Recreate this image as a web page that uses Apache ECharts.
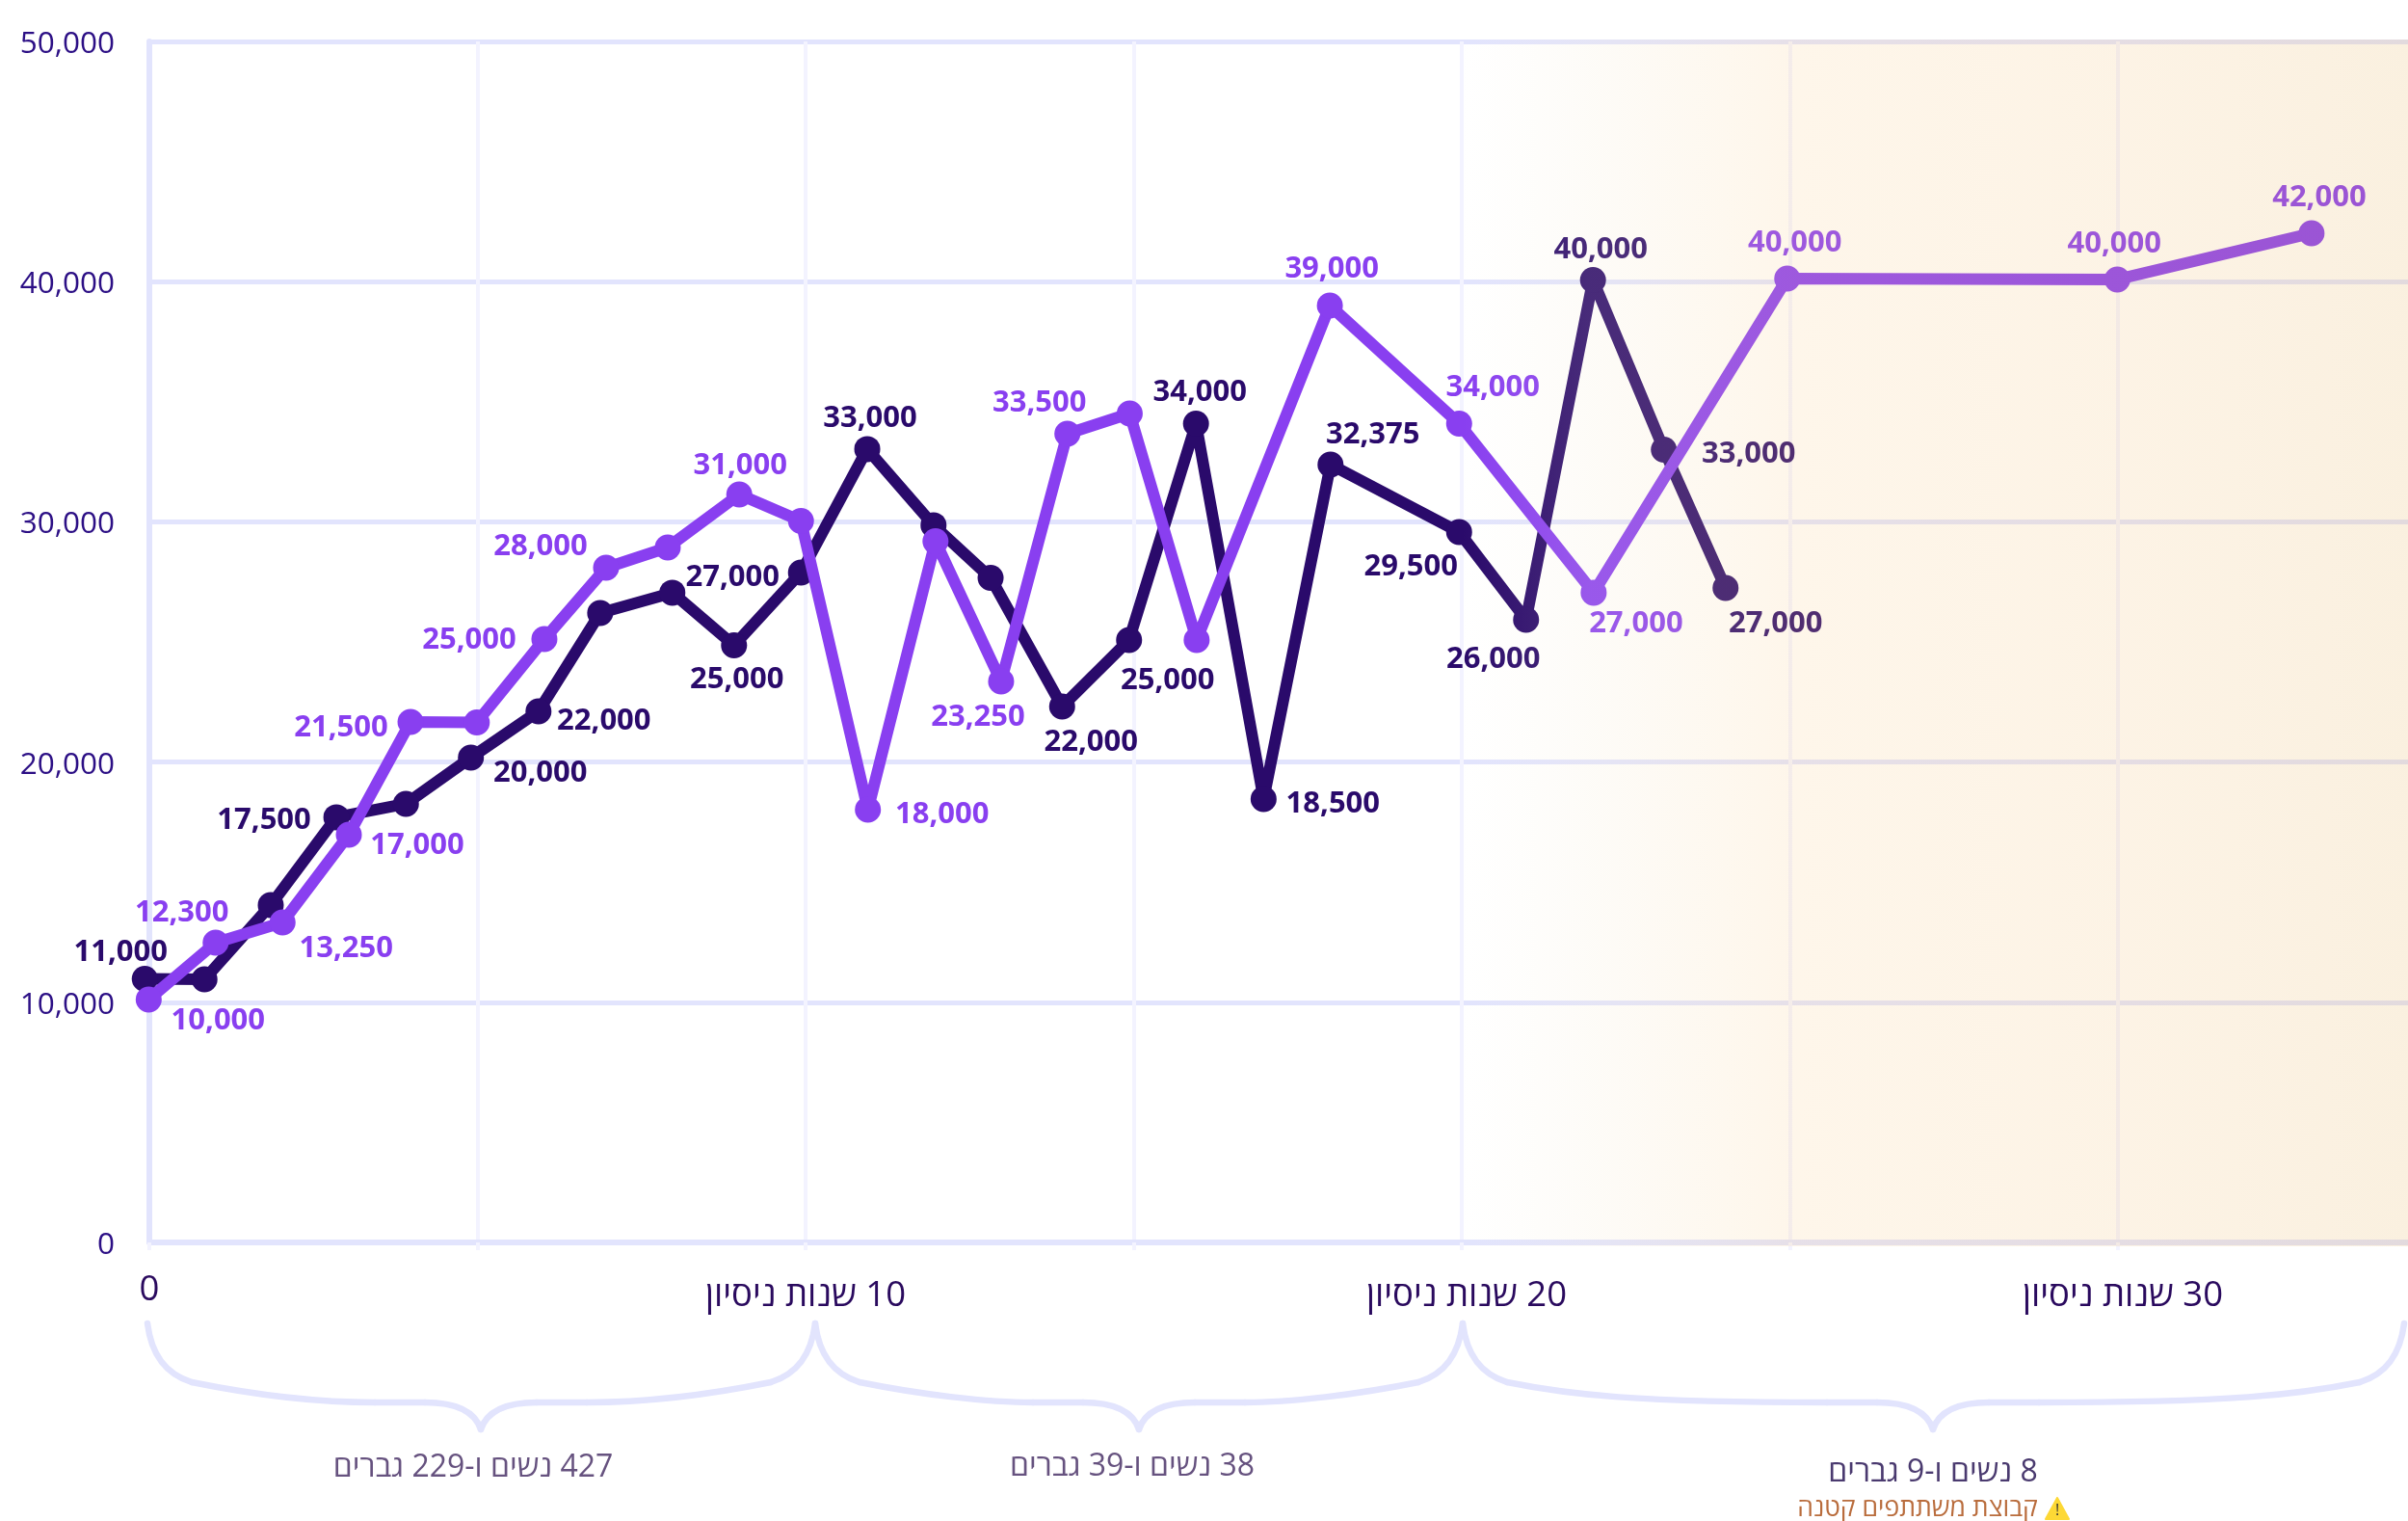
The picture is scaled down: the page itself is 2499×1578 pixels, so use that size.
<!DOCTYPE html>
<html dir="rtl"><head><meta charset="utf-8">
<style>html,body{margin:0;padding:0;background:#fff}#c{width:2499px;height:1578px}</style>
<script src="https://cdn.jsdelivr.net/npm/echarts@6/dist/echarts.min.js"></script></head>
<body><div id="c"></div>
<script>
// Years of experience and monthly salary
const darkYears = [-0.07,0.84,1.85,2.85,3.91,4.90,5.93,6.87,7.97,8.91,9.93,10.94,11.95,12.82,13.91,14.93,15.95,16.98,18.00,19.96,20.98,22.00,23.08,24.02];
const darkValues = [10975,10955,14045,17700,18260,20185,22110,26205,27050,24860,27890,33030,29860,27670,22310,25080,34090,18460,32385,29575,25925,40070,33005,27250];
const darkLabels = ['11,000','','','17,500','','20,000','22,000','','','25,000','27,000','33,000','','','22,000','25,000','34,000','18,500','32,375','29,500','26,000','40,000','33,000','27,000'];
const lightYears = [-0.01,1.01,2.03,3.04,3.98,4.99,6.02,6.96,7.90,8.99,9.93,10.95,11.98,12.98,13.99,14.94,15.96,17.99,19.96,22.01,24.96,29.99,32.95];
const lightValues = [10115,12480,13325,16975,21670,21650,25120,28090,28935,31140,30035,18020,29190,23355,33670,34510,25080,39005,34090,27050,40130,40090,42015];
const lightLabels = ['10,000','12,300','13,250','17,000','21,500','','25,000','28,000','','31,000','','18,000','','23,250','33,500','','','39,000','34,000','27,000','40,000','40,000','42,000'];
const yTicks = [0,10000,20000,30000,40000,50000];
const xTickLabels = {0:'0',10:'10 שנות ניסיון',20:'20 שנות ניסיון',30:'30 שנות ניסיון'};
const groupLabels = ['427 נשים ו-229 גברים','38 נשים ו-39 גברים','8 נשים ו-9 גברים'];
const warningLabel = 'קבוצת משתתפים קטנה';

// Label placement (separate from data)
const darkOffsets = [[-25,-27],null,null,[-75,3],null,[72,16],[68,10],null,null,[3,36],[-71,5],[3,-32],null,null,[30,37],[40,42],[4,-32],[72,5],[44,-31],[-50,36],[-34,41],[8,-31],[88,5],[52,37]];
const lightOffsets = [[72,22],[-35,-31],[66,27],[71,11],[-72,6],null,[-78,1],[-68,-22],null,[1,-30],null,[77,5],null,[-24,37],[-29,-32],null,null,[2,-38],[35,-37],[44,32],[8,-37],[-3,-37],[8,-37]];

const FONT = '"Open Sans","Noto Sans",sans-serif';
const mk = (xs, ys, labels, offs, color) => xs.map((x,i)=>({
  value:[x,ys[i]],
  label: labels[i] ? {show:true,formatter:labels[i],position:'inside',offset:offs[i],color,
    fontFamily:FONT,fontSize:31,fontWeight:700,align:'center',verticalAlign:'middle'} : {show:false}
}));
const series = (name,data,color,z)=>({name,type:'line',data,z,clip:false,symbol:'circle',symbolSize:27,
  showSymbol:true,showAllSymbols:true,animation:false,
  lineStyle:{color,width:12,join:'round',cap:'round'},itemStyle:{color}});

const braceStyle={fill:null,stroke:'#e2e4fd',lineWidth:6.5,lineCap:'round',lineJoin:'round'};
function brace(x0,xm,x1){
  const T=1373,S=1434,F=1455,B=1483;
  const bz=(x1_,y1_,c1x,c1y,c2x,c2y,x2,y2)=>({type:'bezierCurve',silent:true,
    shape:{x1:x1_,y1:y1_,cpx1:c1x,cpy1:c1y,cpx2:c2x,cpy2:c2y,x2,y2},style:braceStyle});
  const ln=(a,b,c,d)=>({type:'line',silent:true,shape:{x1:a,y1:b,x2:c,y2:d},style:braceStyle});
  return [
    bz(x0,T,x0+4,T+32,x0+18,S-9,x0+46,S),
    bz(x0+46,S,x0+110,F-8,x0+180,F,xm-110,F),
    ln(xm-110,F,xm-58,F),
    bz(xm-58,F,xm-24,F,xm-6,F+10,xm,B),
    bz(xm,B,xm+6,F+10,xm+24,F,xm+58,F),
    ln(xm+58,F,xm+110,F),
    bz(xm+110,F,x1-180,F,x1-110,F-8,x1-46,S),
    bz(x1-46,S,x1-18,S-9,x1-4,T+32,x1,T)
  ];
}
const txt=(t,x,y,size,fill)=>({type:'text',x,y,silent:true,style:{text:t,fill,font:`400 ${size}px ${FONT}`,align:'center',verticalAlign:'middle'}});

const chart = echarts.init(document.getElementById('c'),null,{renderer:'canvas'});
chart.setOption({
  animation:false,backgroundColor:'#fff',
  grid:{left:155,right:0,top:43,bottom:289,containLabel:false},
  xAxis:{type:'value',min:0,max:34.42,interval:5,
    axisLine:{show:true,onZero:false,lineStyle:{color:'#e2e4fd',width:6}},
    axisTick:{show:true,length:8,lineStyle:{color:'#f3f3ff',width:4}},
    splitLine:{show:true,showMinLine:false,showMaxLine:false,lineStyle:{color:'#f3f3ff',width:4}},
    axisLabel:{margin:31,showMaxLabel:false,color:'#2a0a5e',fontFamily:FONT,fontSize:36.5,fontWeight:400,
      formatter:v=>{
        if(v===0) return '{z|'+xTickLabels[v]+'}';
        if(v===10) return '{a|'+xTickLabels[v]+'}';
        return xTickLabels[v] ? '{b|'+xTickLabels[v]+'}' : '';
      },
      rich:{z:{fontFamily:FONT,fontSize:36.5,color:'#2a0a5e'},
        a:{fontFamily:FONT,fontSize:36.5,color:'#2a0a5e',padding:[6,0,0,0]},
        b:{fontFamily:FONT,fontSize:36.5,color:'#2a0a5e',padding:[6,0,0,10]}}}},
  yAxis:{type:'value',min:yTicks[0],max:yTicks[yTicks.length-1],interval:10000,
    axisLine:{show:true,lineStyle:{color:'#e2e4fd',width:6}},axisTick:{show:false},
    splitLine:{show:true,lineStyle:{color:'#e2e4fd',width:5}},
    axisLabel:{margin:36,color:'#2c0f85',fontFamily:FONT,fontSize:31.5,
      formatter:v=>'{v|'+v.toLocaleString('en-US')+'}',
      rich:{v:{fontFamily:FONT,fontSize:31.5,color:'#2c0f85',padding:[6,0,0,0]}}}},
  series:[
    series('dark',mk(darkYears,darkValues,darkLabels,darkOffsets,'#2a0a6b'),'#2a0a6b',3),
    series('light',mk(lightYears,lightValues,lightLabels,lightOffsets,'#893ff0'),'#893ff0',4)
  ],
  graphic:{elements:[
    {type:'rect',silent:true,z:100,shape:{x:1517,y:41,width:982,height:1252},
     style:{fill:new echarts.graphic.LinearGradient(0,0,1,0,[
       {offset:0,color:'rgba(245,235,215,0)'},{offset:0.135,color:'rgba(245,232,205,0.15)'},{offset:0.35,color:'rgba(250,205,139,0.18)'},{offset:0.7,color:'rgba(242,189,111,0.18)'},{offset:1,color:'rgba(229,176,87,0.19)'}])}},
    ...brace(153,499,846),...brace(846,1182,1518),...brace(1518,2006,2495),
    txt(groupLabels[0],491,1523,32,'#66527f'),
    txt(groupLabels[1],1175,1522,32,'#66527f'),
    txt(groupLabels[2],2006,1528,32,'#4a3a6f'),
    txt(warningLabel,1990,1565,26.5,'#b96c3c'),
    {type:'polygon',silent:true,shape:{points:[[2123,1576],[2147,1576],[2135,1554]]},style:{fill:'#fdd835',stroke:'#fdd835',lineWidth:2,lineJoin:'round'}},
    txt('!',2135,1567,16,'#333')
  ]}
});
</script></body></html>
